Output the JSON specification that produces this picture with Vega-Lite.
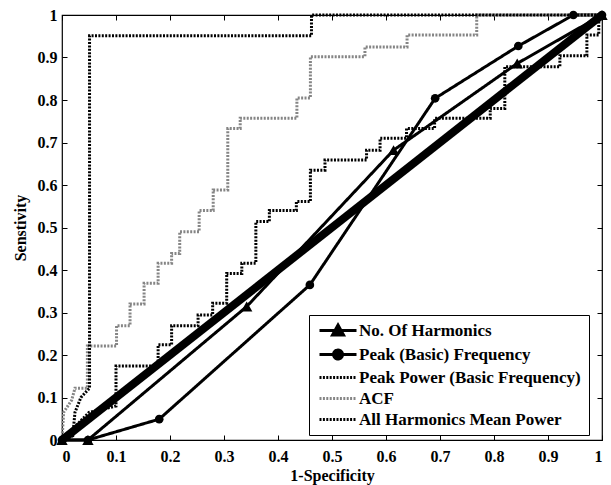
{
  "$schema": "https://vega.github.io/schema/vega-lite/v6.json",
  "width": 540,
  "height": 425,
  "autosize": {"type": "none"},
  "padding": {"left": 62, "top": 15, "right": 9, "bottom": 45},
  "background": "white",
  "config": {
    "view": {"stroke": "black", "strokeWidth": 1.2},
    "font": "Liberation Serif",
    "axis": {
      "labelFont": "Liberation Serif", "labelFontWeight": "bold", "labelFontSize": 16, "labelColor": "black",
      "titleFont": "Liberation Serif", "titleFontWeight": "bold", "titleFontSize": 16, "titleColor": "black",
      "grid": false, "domain": false, "tickColor": "black", "tickSize": -5, "tickWidth": 1
    },
    "legend": {
      "orient": "none", "legendX": 247, "legendY": 300,
      "strokeColor": "black", "fillColor": "white", "padding": 7,
      "labelFont": "Liberation Serif", "labelFontWeight": "bold", "labelFontSize": 17, "labelColor": "black",
      "labelLimit": 0, "labelOffset": 26, "rowPadding": 3, "symbolSize": 100, "symbolStrokeWidth": 3
    }
  },
  "datasets": {
    "diag": [{"x": 0, "y": 0}, {"x": 1, "y": 1}],
    "curves": [
      {"s": "No. Of Harmonics", "i": 0, "x": 0, "y": 0},
      {"s": "No. Of Harmonics", "i": 1, "x": 0.048, "y": 0},
      {"s": "No. Of Harmonics", "i": 2, "x": 0.342, "y": 0.314},
      {"s": "No. Of Harmonics", "i": 3, "x": 0.614, "y": 0.682},
      {"s": "No. Of Harmonics", "i": 4, "x": 0.843, "y": 0.886},
      {"s": "No. Of Harmonics", "i": 5, "x": 1, "y": 1},
      {"s": "Peak (Basic) Frequency", "i": 0, "x": 0, "y": 0},
      {"s": "Peak (Basic) Frequency", "i": 1, "x": 0.048, "y": 0},
      {"s": "Peak (Basic) Frequency", "i": 2, "x": 0.18, "y": 0.049},
      {"s": "Peak (Basic) Frequency", "i": 3, "x": 0.459, "y": 0.365},
      {"s": "Peak (Basic) Frequency", "i": 4, "x": 0.691, "y": 0.804},
      {"s": "Peak (Basic) Frequency", "i": 5, "x": 0.845, "y": 0.927},
      {"s": "Peak (Basic) Frequency", "i": 6, "x": 0.947, "y": 1},
      {"s": "Peak (Basic) Frequency", "i": 7, "x": 1, "y": 1},
      {"s": "Peak Power (Basic Frequency)", "i": 0, "x": 0, "y": 0},
      {"s": "Peak Power (Basic Frequency)", "i": 1, "x": 0.05, "y": 0.065},
      {"s": "Peak Power (Basic Frequency)", "i": 2, "x": 0.1, "y": 0.08},
      {"s": "Peak Power (Basic Frequency)", "i": 3, "x": 0.1, "y": 0.174},
      {"s": "Peak Power (Basic Frequency)", "i": 4, "x": 0.178, "y": 0.174},
      {"s": "Peak Power (Basic Frequency)", "i": 5, "x": 0.178, "y": 0.224},
      {"s": "Peak Power (Basic Frequency)", "i": 6, "x": 0.203, "y": 0.224},
      {"s": "Peak Power (Basic Frequency)", "i": 7, "x": 0.203, "y": 0.269},
      {"s": "Peak Power (Basic Frequency)", "i": 8, "x": 0.252, "y": 0.269},
      {"s": "Peak Power (Basic Frequency)", "i": 9, "x": 0.252, "y": 0.294},
      {"s": "Peak Power (Basic Frequency)", "i": 10, "x": 0.279, "y": 0.294},
      {"s": "Peak Power (Basic Frequency)", "i": 11, "x": 0.279, "y": 0.322},
      {"s": "Peak Power (Basic Frequency)", "i": 12, "x": 0.305, "y": 0.322},
      {"s": "Peak Power (Basic Frequency)", "i": 13, "x": 0.305, "y": 0.392},
      {"s": "Peak Power (Basic Frequency)", "i": 14, "x": 0.333, "y": 0.392},
      {"s": "Peak Power (Basic Frequency)", "i": 15, "x": 0.333, "y": 0.416},
      {"s": "Peak Power (Basic Frequency)", "i": 16, "x": 0.359, "y": 0.416},
      {"s": "Peak Power (Basic Frequency)", "i": 17, "x": 0.359, "y": 0.514},
      {"s": "Peak Power (Basic Frequency)", "i": 18, "x": 0.384, "y": 0.514},
      {"s": "Peak Power (Basic Frequency)", "i": 19, "x": 0.384, "y": 0.54},
      {"s": "Peak Power (Basic Frequency)", "i": 20, "x": 0.434, "y": 0.54},
      {"s": "Peak Power (Basic Frequency)", "i": 21, "x": 0.434, "y": 0.561},
      {"s": "Peak Power (Basic Frequency)", "i": 22, "x": 0.46, "y": 0.561},
      {"s": "Peak Power (Basic Frequency)", "i": 23, "x": 0.46, "y": 0.635},
      {"s": "Peak Power (Basic Frequency)", "i": 24, "x": 0.487, "y": 0.635},
      {"s": "Peak Power (Basic Frequency)", "i": 25, "x": 0.487, "y": 0.659},
      {"s": "Peak Power (Basic Frequency)", "i": 26, "x": 0.564, "y": 0.659},
      {"s": "Peak Power (Basic Frequency)", "i": 27, "x": 0.564, "y": 0.682},
      {"s": "Peak Power (Basic Frequency)", "i": 28, "x": 0.589, "y": 0.682},
      {"s": "Peak Power (Basic Frequency)", "i": 29, "x": 0.589, "y": 0.71},
      {"s": "Peak Power (Basic Frequency)", "i": 30, "x": 0.638, "y": 0.71},
      {"s": "Peak Power (Basic Frequency)", "i": 31, "x": 0.638, "y": 0.733},
      {"s": "Peak Power (Basic Frequency)", "i": 32, "x": 0.69, "y": 0.733},
      {"s": "Peak Power (Basic Frequency)", "i": 33, "x": 0.69, "y": 0.757},
      {"s": "Peak Power (Basic Frequency)", "i": 34, "x": 0.793, "y": 0.757},
      {"s": "Peak Power (Basic Frequency)", "i": 35, "x": 0.793, "y": 0.78},
      {"s": "Peak Power (Basic Frequency)", "i": 36, "x": 0.82, "y": 0.78},
      {"s": "Peak Power (Basic Frequency)", "i": 37, "x": 0.82, "y": 0.878},
      {"s": "Peak Power (Basic Frequency)", "i": 38, "x": 0.922, "y": 0.878},
      {"s": "Peak Power (Basic Frequency)", "i": 39, "x": 0.922, "y": 0.904},
      {"s": "Peak Power (Basic Frequency)", "i": 40, "x": 0.972, "y": 0.904},
      {"s": "Peak Power (Basic Frequency)", "i": 41, "x": 0.972, "y": 0.953},
      {"s": "Peak Power (Basic Frequency)", "i": 42, "x": 0.994, "y": 0.953},
      {"s": "Peak Power (Basic Frequency)", "i": 43, "x": 0.994, "y": 1},
      {"s": "Peak Power (Basic Frequency)", "i": 44, "x": 1, "y": 1},
      {"s": "ACF", "i": 0, "x": 0, "y": 0},
      {"s": "ACF", "i": 1, "x": 0.003, "y": 0.065},
      {"s": "ACF", "i": 2, "x": 0.018, "y": 0.094},
      {"s": "ACF", "i": 3, "x": 0.024, "y": 0.122},
      {"s": "ACF", "i": 4, "x": 0.047, "y": 0.122},
      {"s": "ACF", "i": 5, "x": 0.047, "y": 0.221},
      {"s": "ACF", "i": 6, "x": 0.101, "y": 0.221},
      {"s": "ACF", "i": 7, "x": 0.101, "y": 0.269},
      {"s": "ACF", "i": 8, "x": 0.126, "y": 0.269},
      {"s": "ACF", "i": 9, "x": 0.126, "y": 0.32},
      {"s": "ACF", "i": 10, "x": 0.152, "y": 0.32},
      {"s": "ACF", "i": 11, "x": 0.152, "y": 0.369},
      {"s": "ACF", "i": 12, "x": 0.178, "y": 0.369},
      {"s": "ACF", "i": 13, "x": 0.178, "y": 0.416},
      {"s": "ACF", "i": 14, "x": 0.203, "y": 0.416},
      {"s": "ACF", "i": 15, "x": 0.203, "y": 0.439},
      {"s": "ACF", "i": 16, "x": 0.218, "y": 0.439},
      {"s": "ACF", "i": 17, "x": 0.218, "y": 0.49},
      {"s": "ACF", "i": 18, "x": 0.254, "y": 0.49},
      {"s": "ACF", "i": 19, "x": 0.254, "y": 0.54},
      {"s": "ACF", "i": 20, "x": 0.28, "y": 0.54},
      {"s": "ACF", "i": 21, "x": 0.28, "y": 0.588},
      {"s": "ACF", "i": 22, "x": 0.307, "y": 0.588},
      {"s": "ACF", "i": 23, "x": 0.307, "y": 0.733},
      {"s": "ACF", "i": 24, "x": 0.33, "y": 0.733},
      {"s": "ACF", "i": 25, "x": 0.33, "y": 0.757},
      {"s": "ACF", "i": 26, "x": 0.435, "y": 0.757},
      {"s": "ACF", "i": 27, "x": 0.435, "y": 0.805},
      {"s": "ACF", "i": 28, "x": 0.46, "y": 0.805},
      {"s": "ACF", "i": 29, "x": 0.46, "y": 0.902},
      {"s": "ACF", "i": 30, "x": 0.561, "y": 0.902},
      {"s": "ACF", "i": 31, "x": 0.561, "y": 0.925},
      {"s": "ACF", "i": 32, "x": 0.639, "y": 0.925},
      {"s": "ACF", "i": 33, "x": 0.639, "y": 0.953},
      {"s": "ACF", "i": 34, "x": 0.768, "y": 0.953},
      {"s": "ACF", "i": 35, "x": 0.768, "y": 1},
      {"s": "ACF", "i": 36, "x": 1, "y": 1},
      {"s": "All Harmonics Mean Power", "i": 0, "x": 0, "y": 0},
      {"s": "All Harmonics Mean Power", "i": 1, "x": 0.02, "y": 0.01},
      {"s": "All Harmonics Mean Power", "i": 2, "x": 0.024, "y": 0.065},
      {"s": "All Harmonics Mean Power", "i": 3, "x": 0.035, "y": 0.1},
      {"s": "All Harmonics Mean Power", "i": 4, "x": 0.051, "y": 0.122},
      {"s": "All Harmonics Mean Power", "i": 5, "x": 0.051, "y": 0.951},
      {"s": "All Harmonics Mean Power", "i": 6, "x": 0.462, "y": 0.951},
      {"s": "All Harmonics Mean Power", "i": 7, "x": 0.462, "y": 1},
      {"s": "All Harmonics Mean Power", "i": 8, "x": 1, "y": 1}
    ]
  },
  "layer": [
    {
      "data": {"name": "curves"},
      "mark": {"type": "line", "strokeWidth": 3, "strokeCap": "butt"},
      "encoding": {
        "x": {"field": "x", "type": "quantitative", "scale": {"domain": [0, 1], "nice": false, "zero": false},
              "axis": {"orient": "bottom", "values": [0, 0.1, 0.2, 0.3, 0.4, 0.5, 0.6, 0.7, 0.8, 0.9, 1], "format": "~g", "title": "1-Specificity", "labelPadding": 13, "titlePadding": 3}},
        "y": {"field": "y", "type": "quantitative", "scale": {"domain": [0, 1], "nice": false, "zero": false},
              "axis": {"orient": "left", "values": [0, 0.1, 0.2, 0.3, 0.4, 0.5, 0.6, 0.7, 0.8, 0.9, 1], "format": "~g", "title": "Senstivity", "labelPadding": 10, "titlePadding": 9}},
        "color": {"field": "s", "type": "nominal",
          "scale": {"domain": ["No. Of Harmonics", "Peak (Basic) Frequency", "Peak Power (Basic Frequency)", "ACF", "All Harmonics Mean Power"],
                    "range": ["black", "black", "black", "#858585", "black"]},
          "legend": {"title": null,
            "encode": {"symbols": {"update": {
              "shape": {"signal": "datum.value === 'No. Of Harmonics' ? 'M-1,0H6.4M1.6,0.9L2.7,-1.1L3.8,0.9Z' : datum.value === 'Peak (Basic) Frequency' ? 'M-1,0H6.4M1.8,0A0.9,0.9,0,1,1,3.6,0A0.9,0.9,0,1,1,1.8,0Z' : 'M-1,0H6.4'"},
              "strokeDash": {"signal": "(datum.value === 'No. Of Harmonics' || datum.value === 'Peak (Basic) Frequency') ? [1, 0] : [2, 1.4]"},
              "fill": {"value": "black"}
            }}}}},
        "strokeDash": {"field": "s", "type": "nominal", "legend": null,
          "scale": {"domain": ["No. Of Harmonics", "Peak (Basic) Frequency", "Peak Power (Basic Frequency)", "ACF", "All Harmonics Mean Power"],
                    "range": [[1, 0], [1, 0], [2, 1.4], [2, 1.4], [2, 1.4]]}},
        "order": {"field": "i", "type": "quantitative"}
      }
    },
    {
      "data": {"name": "diag"},
      "mark": {"type": "line", "strokeWidth": 8, "color": "black", "strokeCap": "butt"},
      "encoding": {
        "x": {"field": "x", "type": "quantitative", "axis": {"orient": "top", "values": [0, 0.1, 0.2, 0.3, 0.4, 0.5, 0.6, 0.7, 0.8, 0.9, 1], "labels": false, "title": null}},
        "y": {"field": "y", "type": "quantitative", "axis": {"orient": "right", "values": [0, 0.1, 0.2, 0.3, 0.4, 0.5, 0.6, 0.7, 0.8, 0.9, 1], "labels": false, "title": null}}
      }
    },
    {
      "data": {"name": "curves"},
      "transform": [{"filter": "datum.s === 'No. Of Harmonics'"}],
      "mark": {"type": "point", "shape": "triangle-up", "filled": true, "color": "black", "opacity": 1, "size": 130},
      "encoding": {
        "x": {"field": "x", "type": "quantitative", "axis": null},
        "y": {"field": "y", "type": "quantitative", "axis": null}
      }
    },
    {
      "data": {"name": "curves"},
      "transform": [{"filter": "datum.s === 'Peak (Basic) Frequency'"}],
      "mark": {"type": "point", "shape": "circle", "filled": true, "color": "black", "opacity": 1, "size": 75},
      "encoding": {
        "x": {"field": "x", "type": "quantitative", "axis": null},
        "y": {"field": "y", "type": "quantitative", "axis": null}
      }
    }
  ],
  "resolve": {"axis": {"x": "independent", "y": "independent"}}
}
